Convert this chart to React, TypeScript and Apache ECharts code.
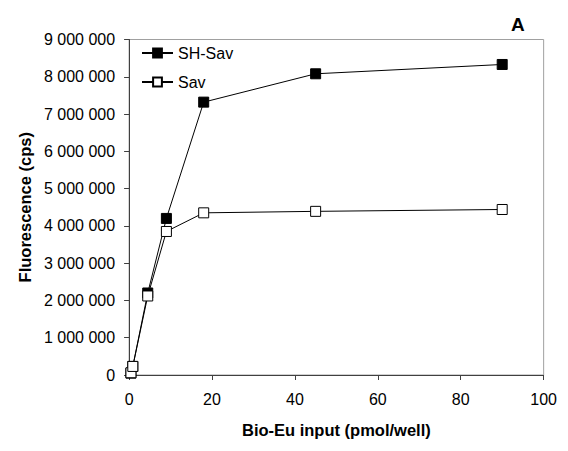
import React, { useEffect, useRef } from "react";
import * as echarts from "echarts";

const xShSav = [0.45, 0.9, 4.5, 9, 18, 45, 90];
const yShSav = [50000, 230000, 2200000, 4200000, 7320000, 8080000, 8330000];
const xSav = [0.45, 0.9, 4.5, 9, 18, 45, 90];
const ySav = [60000, 230000, 2120000, 3850000, 4350000, 4390000, 4440000];
const seriesNames = ["SH-Sav", "Sav"];
const panelLabel = "A";
const xTitle = "Bio-Eu input (pmol/well)";
const yTitle = "Fluorescence (cps)";

const fmt = (v: number) => String(Math.round(v)).replace(/\B(?=(\d{3})+(?!\d))/g, " ");

export default function App() {
  const ref = useRef<HTMLDivElement>(null);
  useEffect(() => {
    const chart = echarts.init(ref.current!, null, { renderer: "svg" });
    const font = "Liberation Sans, Arial, sans-serif";
    chart.setOption({
      animation: false,
      backgroundColor: "#fff",
      textStyle: { fontFamily: font },
      grid: { left: 116.5, right: 10, top: 31.5, bottom: 56, show: true, borderColor: "#a0a0a0", borderWidth: 1 },
      legend: {
        orient: "vertical",
        left: 133,
        top: 37,
        padding: 0,
        itemWidth: 31,
        itemHeight: 11,
        itemGap: 13,
        textStyle: { fontFamily: font, fontSize: 16, lineHeight: 16, color: "#000", padding: [0, 0, 0, 0] },
        data: seriesNames,
      },
      graphic: [
        { type: "text", left: 503, top: 7, style: { text: panelLabel, font: `bold 19px ${font}`, fill: "#000" } },
      ],
      xAxis: {
        type: "value",
        min: 0,
        max: 100,
        interval: 20,
        name: xTitle,
        nameLocation: "middle",
        nameGap: 46,
        nameTextStyle: { fontFamily: font, fontWeight: "bold", fontSize: 16.5, color: "#000" },
        axisLine: { lineStyle: { color: "#404040", width: 1 } },
        axisTick: { show: true, length: 5, lineStyle: { color: "#404040" } },
        axisLabel: { fontFamily: font, fontSize: 16, color: "#000", margin: 16 },
        splitLine: { show: false },
      },
      yAxis: {
        type: "value",
        min: 0,
        max: 9000000,
        interval: 1000000,
        name: yTitle,
        nameLocation: "middle",
        nameGap: 92,
        nameTextStyle: { fontFamily: font, fontWeight: "bold", fontSize: 16.5, color: "#000" },
        axisLine: { show: true, lineStyle: { color: "#404040", width: 1 } },
        axisTick: { show: true, length: 5, lineStyle: { color: "#404040" } },
        axisLabel: { fontFamily: font, fontSize: 16, color: "#000", margin: 14, formatter: fmt },
        splitLine: { show: false },
      },
      series: [
        {
          name: seriesNames[0],
          type: "line",
          data: xShSav.map((x, i) => [x, yShSav[i]]),
          symbol: "rect",
          symbolSize: 10,
          lineStyle: { color: "#000", width: 1 },
          itemStyle: { color: "#000", borderColor: "#000", borderWidth: 1 },
          z: 3,
        },
        {
          name: seriesNames[1],
          type: "line",
          data: xSav.map((x, i) => [x, ySav[i]]),
          symbol: "rect",
          symbolSize: 10,
          lineStyle: { color: "#000", width: 1 },
          itemStyle: { color: "#fff", borderColor: "#000", borderWidth: 1 },
          z: 4,
        },
      ],
    });
    return () => chart.dispose();
  }, []);
  return <div ref={ref} style={{ width: 552, height: 435 }} />;
}
